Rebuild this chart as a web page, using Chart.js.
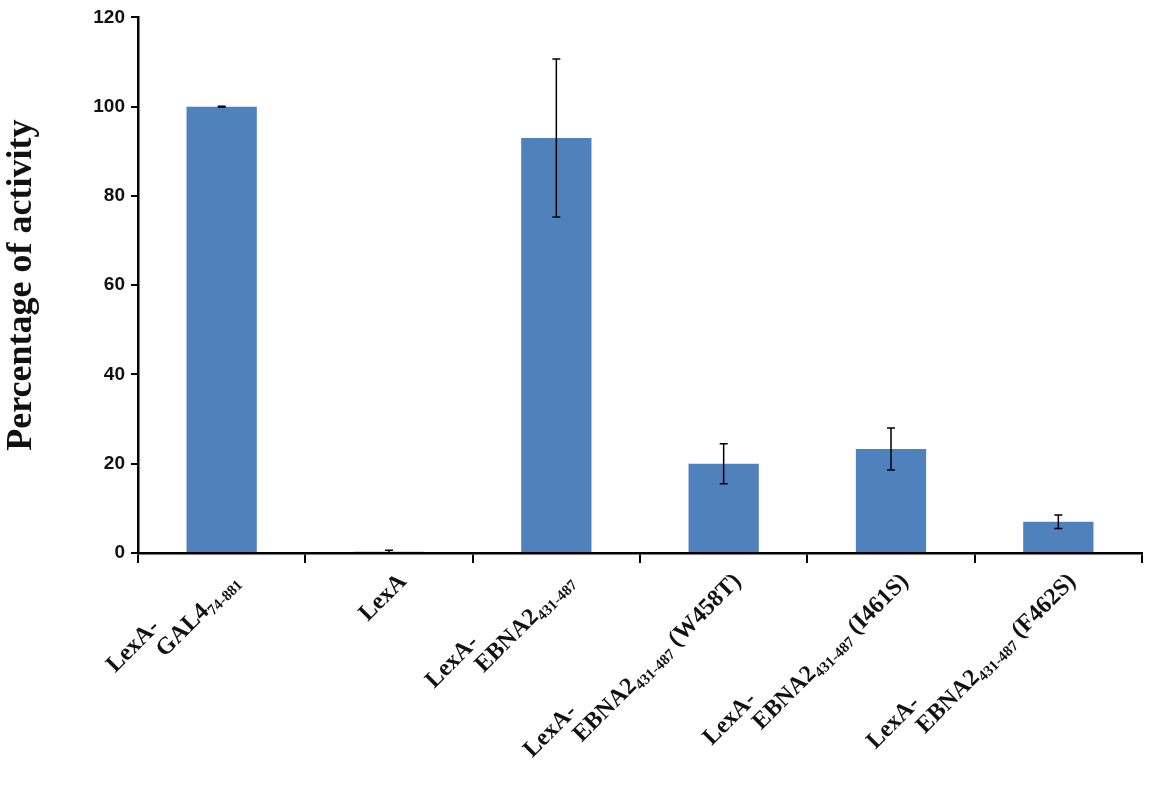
<!DOCTYPE html>
<html>
<head>
<script src="https://cdn.jsdelivr.net/npm/chart.js@4"></script>
<style>body{margin:0;background:#fff}#wrap{width:1156px;height:800px}</style>
</head>
<body>
<div id="wrap"><canvas id="bar"></canvas></div>
<script>
// label parts: [line1, line2 main, subscript, suffix]
var labels = ['GAL4', 'LexA', 'EBNA2', 'W458T', 'I461S', 'F462S'];
var labelLines = [
  ['LexA-', 'GAL4', '74-881', ''],
  ['', 'LexA', '', ''],
  ['LexA-', 'EBNA2', '431-487', ''],
  ['LexA-', 'EBNA2', '431-487', ' (W458T)'],
  ['LexA-', 'EBNA2', '431-487', ' (I461S)'],
  ['LexA-', 'EBNA2', '431-487', ' (F462S)']
];
var values = [100, 0.3, 93, 20, 23.3, 7];
var errors = [0.1, 0.3, 17.7, 4.5, 4.7, 1.5];
var yTicks = [0, 20, 40, 60, 80, 100, 120];

var serif = '"Liberation Serif", "Times New Roman", serif';

var errorBars = {
  id: 'errorBars',
  afterDatasetsDraw: function(chart) {
    var ctx = chart.ctx, x = chart.scales.x, y = chart.scales.y;
    ctx.save();
    ctx.strokeStyle = '#000';
    ctx.lineWidth = 1.5;
    values.forEach(function(v, i) {
      var cx = x.getPixelForValue(i);
      var top = y.getPixelForValue(v + errors[i]);
      var bot = y.getPixelForValue(Math.max(0, v - errors[i]));
      ctx.beginPath();
      ctx.moveTo(cx, top); ctx.lineTo(cx, bot);
      ctx.moveTo(cx - 4, top); ctx.lineTo(cx + 4, top);
      ctx.moveTo(cx - 4, bot); ctx.lineTo(cx + 4, bot);
      ctx.stroke();
    });
    ctx.restore();
  }
};

var xLabels = {
  id: 'xLabels',
  afterDraw: function(chart) {
    var ctx = chart.ctx, x = chart.scales.x;
    ctx.save();
    ctx.fillStyle = '#111';
    ctx.textBaseline = 'middle';
    labelLines.forEach(function(p, i) {
      var cx = x.getPixelForValue(i);
      ctx.save();
      ctx.translate(cx + 14, 578);
      ctx.rotate(-Math.PI / 4);
      var big = 'bold 24px ' + serif, small = 'bold 15px ' + serif;
      ctx.font = big;
      var w1 = ctx.measureText(p[1]).width, w3 = ctx.measureText(p[3]).width;
      ctx.font = small;
      var w2 = ctx.measureText(p[2]).width;
      var start = -(w1 + w2 + w3);
      ctx.textAlign = 'left';
      ctx.font = big;
      ctx.fillText(p[1], start, 0);
      ctx.fillText(p[3], start + w1 + w2, 0);
      ctx.font = small;
      ctx.fillText(p[2], start + w1, 7);
      if (p[0]) {
        ctx.font = big;
        ctx.textAlign = 'right';
        ctx.fillText(p[0], start + 18, -24);
      }
      ctx.restore();
    });
    ctx.restore();
  }
};

new Chart(document.getElementById('bar').getContext('2d'), {
  type: 'bar',
  data: {
    labels: labels,
    datasets: [{
      data: values,
      backgroundColor: '#4f81bd',
      categoryPercentage: 1,
      barPercentage: 0.42
    }]
  },
  options: {
    responsive: true,
    maintainAspectRatio: false,
    animation: false,
    layout: { padding: { top: 12, right: 14, left: 0, bottom: 0 } },
    plugins: { legend: { display: false }, tooltip: { enabled: false } },
    scales: {
      x: {
        ticks: { display: false },
        grid: { drawOnChartArea: false, tickLength: 10, color: '#000', lineWidth: 2 },
        border: { color: '#000', width: 2.5 },
        afterFit: function(s) { s.height = 247; }
      },
      y: {
        min: 0, max: 120,
        afterBuildTicks: function(s) { s.ticks = yTicks.map(function(v) { return { value: v }; }); },
        ticks: { color: '#111', font: { family: '"Liberation Sans", Arial, sans-serif', size: 19, weight: 'bold' }, padding: 6 },
        grid: { drawOnChartArea: false, tickLength: 7, color: '#000', lineWidth: 2 },
        border: { color: '#000', width: 2.5 },
        title: { display: true, text: 'Percentage of activity', color: '#111', font: { family: serif, size: 36, weight: 'bold' }, padding: { top: 0, bottom: 14 } },
        afterFit: function(s) { s.width = 138; }
      }
    }
  },
  plugins: [errorBars, xLabels]
});
</script>
</body>
</html>
